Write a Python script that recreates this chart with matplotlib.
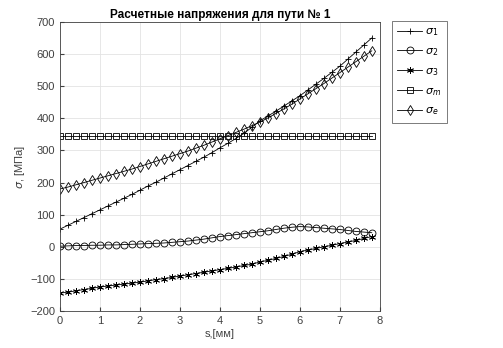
import matplotlib.pyplot as plt

plt.rcParams['font.family'] = ['Liberation Sans', 'DejaVu Sans']

s = [0.0, 0.2, 0.4, 0.6, 0.8, 1.0, 1.2, 1.4, 1.6, 1.8,
     2.0, 2.2, 2.4, 2.6, 2.8, 3.0, 3.2, 3.4, 3.6, 3.8,
     4.0, 4.2, 4.4, 4.6, 4.8, 5.0, 5.2, 5.4, 5.6, 5.8,
     6.0, 6.2, 6.4, 6.6, 6.8, 7.0, 7.2, 7.4, 7.6, 7.8]

sigma1 = [55, 67, 79, 91, 103, 115, 127, 139, 151, 163,
          176, 189, 201, 214, 227, 240, 253, 266, 279, 293,
          308, 322, 337, 353, 372, 392, 407, 422, 438, 454,
          470, 488, 506, 524, 543, 562, 584, 606, 628, 650]

sigma2 = [2, 3, 4, 4, 5, 5, 6, 6, 7, 8,
          9, 10, 11, 12, 14, 16, 18, 21, 24, 28,
          32, 35, 38, 41, 44, 47, 50, 54, 58, 61,
          63, 62, 60, 58, 56, 54, 51, 48, 46, 44]

sigma3 = [-144, -141, -137, -133, -129, -125, -122, -119, -116, -113,
          -110, -106, -102, -99, -95, -91, -87, -83, -79, -75,
          -71, -67, -63, -58, -54, -47, -42, -36, -30, -23,
          -15, -10, -5, 0, 5, 10, 15, 20, 26, 32]

sigma_m = [345] * 40

sigma_e = [180, 186, 193, 200, 207, 214, 221, 228, 235, 242,
           250, 258, 266, 274, 282, 290, 298, 307, 316, 326,
           336, 346, 356, 366, 377, 388, 401, 415, 429, 444,
           460, 476, 492, 508, 525, 542, 559, 576, 593, 610]

series = [
    (sigma1, '+', r'$\sigma_1$'),
    (sigma2, 'o', r'$\sigma_2$'),
    (sigma3, (6, 2, 0), r'$\sigma_3$'),
    (sigma_m, 's', r'$\sigma_m$'),
    (sigma_e, 'd', r'$\sigma_e$'),
]

fig = plt.figure(figsize=(5.03, 3.48), dpi=100)
ax = fig.add_axes([0.119, 0.106, 0.636, 0.831])

for vals, mk, lab in series:
    ax.plot(s, vals, color='black', linewidth=0.6, marker=mk,
            markersize=5, markerfacecolor='none', markeredgewidth=0.6,
            label=lab)

ax.set_xlim(0, 8)
ax.set_ylim(-200, 700)
ax.set_xticks(range(0, 9))
ax.set_yticks(range(-200, 701, 100))
ax.grid(True, color='#e3e3e3', linewidth=0.6)
ax.set_axisbelow(True)
ax.tick_params(direction='in', labelsize=8, colors='#404040', length=3)
for sp in ax.spines.values():
    sp.set_color('#404040')
    sp.set_linewidth(0.6)

ax.set_title('Расчетные напряжения для пути № 1', fontsize=8.5,
             fontweight='bold', pad=3)
ax.set_xlabel('s,[мм]', fontsize=8, color='#404040', labelpad=2)
ax.set_ylabel(r'$\sigma$, [МПа]', fontsize=8, color='#404040', labelpad=2)

leg = fig.legend(loc='upper left', bbox_to_anchor=(0.779, 0.94),
                 borderaxespad=0, fontsize=8, frameon=True, fancybox=False,
                 handlelength=2.2, borderpad=0.5, labelspacing=0.72,
                 handletextpad=0.3)
leg.get_frame().set_edgecolor('#404040')
leg.get_frame().set_linewidth(0.6)

fig.savefig('out.png', dpi=100)
